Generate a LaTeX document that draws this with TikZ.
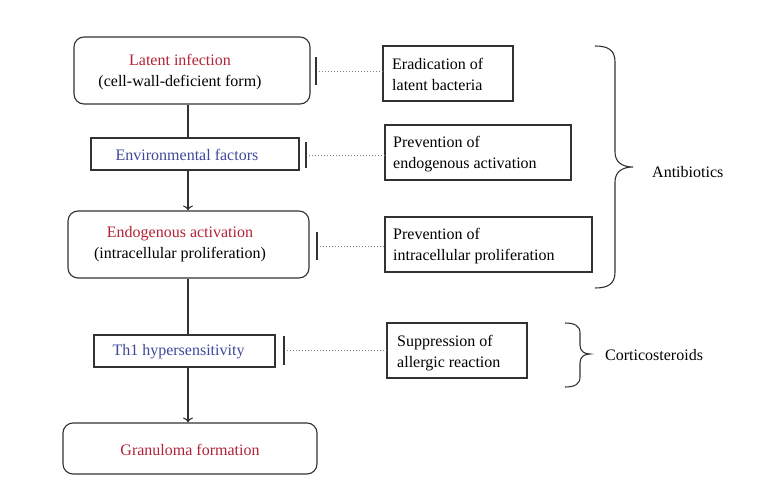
\documentclass[tikz,border=0pt]{standalone}
\usepackage{fontspec}
\setmainfont{Liberation Serif}
\usetikzlibrary{arrows.meta}
\definecolor{tred}{RGB}{178,34,52}
\definecolor{tblue}{RGB}{62,72,152}
\definecolor{lgray}{RGB}{50,50,50}
\begin{document}
\begin{tikzpicture}[x=1pt,y=-1pt,
  font=\fontsize{16}{21}\selectfont,
  rbox/.style={draw=lgray,line width=1.1pt,rounded corners=10pt,inner sep=0pt},
  sbox/.style={draw=lgray,line width=1.1pt,inner sep=0pt},
  txt/.style={inner sep=0pt,align=center},
  ltxt/.style={inner sep=0pt,align=left,anchor=west},
  bar/.style={line width=1.4pt,draw=lgray},
  dots/.style={dash pattern=on 1pt off 2pt,draw=gray,line width=0.9pt},
  flow/.style={draw=lgray,line width=1.1pt},
  arr/.style={flow,-{To[length=5pt,width=10pt]}}
]
\useasboundingbox (0,0) rectangle (767,486);

% left column boxes
\node[rbox,minimum width=236pt,minimum height=67pt] (b1) at (192,70.5) {};
\node[sbox,minimum width=208pt,minimum height=32pt] (env) at (195,154) {};
\node[rbox,minimum width=241pt,minimum height=67pt] (endo) at (188.5,244.5) {};
\node[sbox,minimum width=181pt,minimum height=32pt] (th1) at (184.5,351) {};
\node[rbox,minimum width=254pt,minimum height=51pt] (gran) at (190,448.5) {};

\node[txt] (t1) at (180,72.5) {\textcolor{tred}{Latent infection}\\(cell-wall-deficient form)};
\node[txt,text=tblue] (t2) at (187,155) {Environmental factors};
\node[txt] (t3) at (180,244) {\textcolor{tred}{Endogenous activation}\\(intracellular proliferation)};
\node[txt,text=tblue] (t4) at (178.5,351.5) {Th1 hypersensitivity};
\node[txt,text=tred] (t5) at (190,450) {Granuloma formation};

% right column boxes
\node[sbox,minimum width=130pt,minimum height=55pt] (erad) at (448,73.5) {};
\node[sbox,minimum width=186pt,minimum height=55pt] (prevE) at (478,152.5) {};
\node[sbox,minimum width=207pt,minimum height=55pt] (prevI) at (488.5,244.5) {};
\node[sbox,minimum width=140pt,minimum height=55pt] (supp) at (457,350.5) {};

\node[ltxt] (r1) at (392,74.5) {Eradication of\\latent bacteria};
\node[ltxt] (r2) at (393,154) {Prevention of\\endogenous activation};
\node[ltxt] (r3) at (393,246) {Prevention of\\intracellular proliferation};
\node[ltxt] (r4) at (397,353) {Suppression of\\allergic reaction};

% main flow
\coordinate (sp) at (188,0);
\draw[flow] (b1.south -| sp) -- (env.north -| sp);
\draw[arr] (env.south -| sp) -- (endo.north -| sp);
\draw[flow] (endo.south -| sp) -- (th1.north -| sp);
\draw[arr] (th1.south -| sp) -- (gran.north -| sp);

% inhibition bars and dotted links
\coordinate (k1) at (316,71);
\coordinate (k2) at (306,155);
\coordinate (k3) at (317,246);
\coordinate (k4) at (284,350);
\draw[bar] (k1) ++(0,-14) -- ++(0,28);
\draw[bar] (k2) ++(0,-13) -- ++(0,26);
\draw[bar] (k3) ++(0,-14) -- ++(0,28);
\draw[bar] (k4) ++(0,-14.5) -- ++(0,29);
\draw[dots] (k1) ++(3,0) -- (erad.west |- k1);
\draw[dots] (k2) ++(3,0) -- (prevE.west |- k2);
\draw[dots] (k3) ++(3,0) -- (prevI.west |- k3);
\draw[dots] (k4) ++(3,0) -- (supp.west |- k4);

% braces
\draw[flow] (595,46) .. controls (608,46) and (615,50) .. (615,62) -- (615,152)
  .. controls (615,162) and (622,167) .. (633,167)
  .. controls (622,167) and (615,172) .. (615,182) -- (615,272)
  .. controls (615,284) and (608,288) .. (595,288);
\draw[flow] (565,323) .. controls (575,323) and (580,326) .. (580,333) -- (580,345)
  .. controls (580,351) and (584,354) .. (590,354)
  .. controls (584,354) and (580,357) .. (580,363) -- (580,377)
  .. controls (580,384) and (575,387) .. (565,387);

\node[ltxt] (ab) at (652,172) {Antibiotics};
\node[ltxt] (cs) at (605,355) {Corticosteroids};
\end{tikzpicture}
\end{document}
